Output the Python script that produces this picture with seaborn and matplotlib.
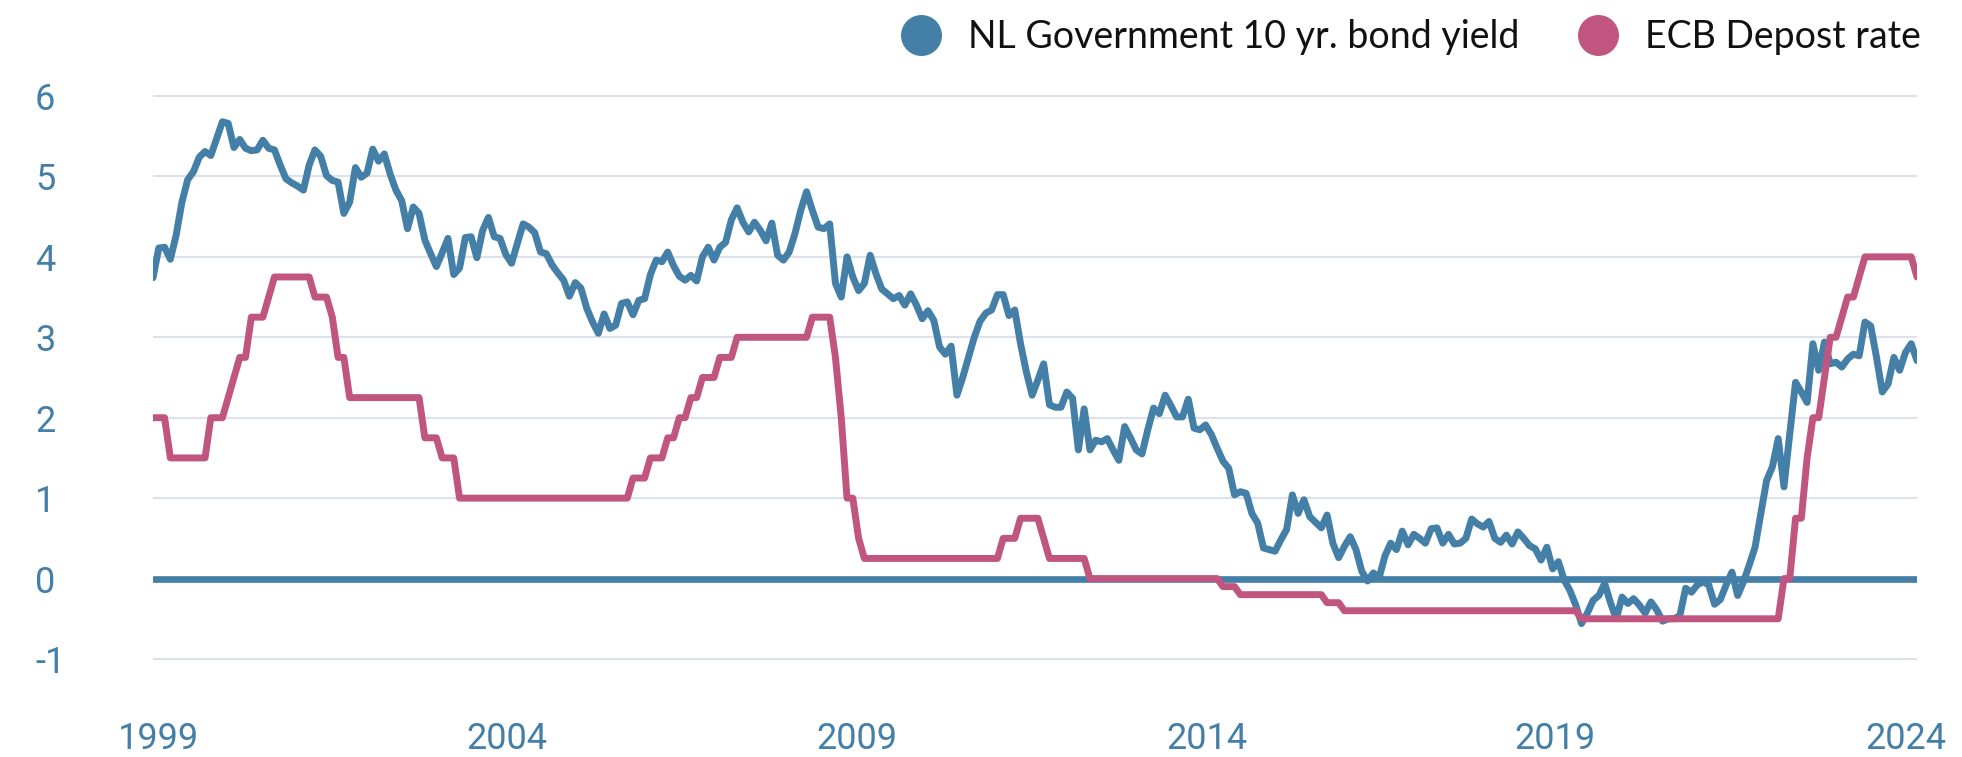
import numpy as np
import pandas as pd
import matplotlib
matplotlib.use("Agg")
import matplotlib.pyplot as plt
from matplotlib.lines import Line2D
import seaborn as sns

# monthly values, Jan 1999 - Jun 2024
nl_yield = [
    3.74, 4.11, 4.12, 3.97, 4.27, 4.68, 4.96, 5.06, 5.24, 5.31, 5.26, 5.47,  # 1999
    5.68, 5.66, 5.36, 5.46, 5.35, 5.32, 5.33, 5.45, 5.35, 5.33, 5.14, 4.97,  # 2000
    4.92, 4.88, 4.83, 5.14, 5.33, 5.25, 5.01, 4.95, 4.93, 4.54, 4.68, 5.11,  # 2001
    4.99, 5.04, 5.34, 5.19, 5.28, 5.03, 4.83, 4.70, 4.35, 4.62, 4.54, 4.21,  # 2002
    4.04, 3.88, 4.05, 4.23, 3.78, 3.86, 4.24, 4.25, 3.99, 4.33, 4.49, 4.25,  # 2003
    4.23, 4.03, 3.92, 4.17, 4.41, 4.37, 4.30, 4.06, 4.04, 3.90, 3.80, 3.71,  # 2004
    3.51, 3.68, 3.61, 3.36, 3.19, 3.05, 3.29, 3.11, 3.15, 3.42, 3.44, 3.28,  # 2005
    3.46, 3.48, 3.78, 3.96, 3.94, 4.06, 3.89, 3.76, 3.71, 3.77, 3.70, 4.00,  # 2006
    4.12, 3.96, 4.12, 4.18, 4.46, 4.61, 4.43, 4.31, 4.43, 4.33, 4.20, 4.42,  # 2007
    4.02, 3.96, 4.06, 4.29, 4.58, 4.81, 4.58, 4.37, 4.35, 4.41, 3.67, 3.50,  # 2008
    4.00, 3.75, 3.58, 3.67, 4.02, 3.79, 3.60, 3.54, 3.48, 3.52, 3.40, 3.54,  # 2009
    3.40, 3.23, 3.33, 3.21, 2.88, 2.79, 2.89, 2.28, 2.50, 2.75, 3.00, 3.20,  # 2010
    3.30, 3.34, 3.53, 3.53, 3.27, 3.34, 2.92, 2.57, 2.28, 2.47, 2.67, 2.16,  # 2011
    2.13, 2.13, 2.32, 2.24, 1.60, 2.11, 1.60, 1.72, 1.70, 1.74, 1.60, 1.47,  # 2012
    1.89, 1.75, 1.60, 1.55, 1.85, 2.12, 2.05, 2.28, 2.15, 2.01, 2.01, 2.23,  # 2013
    1.87, 1.85, 1.91, 1.79, 1.62, 1.46, 1.37, 1.04, 1.08, 1.06, 0.81, 0.69,  # 2014
    0.38, 0.36, 0.34, 0.48, 0.61, 1.04, 0.81, 0.98, 0.77, 0.70, 0.63, 0.79,  # 2015
    0.44, 0.26, 0.40, 0.52, 0.36, 0.09, -0.03, 0.07, 0.01, 0.28, 0.44, 0.36,  # 2016
    0.59, 0.42, 0.55, 0.50, 0.44, 0.62, 0.63, 0.44, 0.55, 0.43, 0.44, 0.50,  # 2017
    0.74, 0.68, 0.64, 0.71, 0.50, 0.45, 0.54, 0.43, 0.58, 0.50, 0.41, 0.37,  # 2018
    0.23, 0.39, 0.12, 0.21, -0.02, -0.15, -0.33, -0.56, -0.43, -0.27, -0.21, -0.06,  # 2019
    -0.30, -0.50, -0.23, -0.31, -0.25, -0.33, -0.43, -0.29, -0.39, -0.53, -0.50, -0.50,  # 2020
    -0.46, -0.12, -0.17, -0.08, -0.04, -0.08, -0.32, -0.26, -0.08, 0.08, -0.21, -0.04,  # 2021
    0.17, 0.39, 0.81, 1.22, 1.39, 1.74, 1.14, 1.80, 2.44, 2.32, 2.19, 2.92,  # 2022
    2.59, 2.94, 2.67, 2.69, 2.63, 2.73, 2.79, 2.77, 3.19, 3.14, 2.75, 2.32,  # 2023
    2.42, 2.75, 2.59, 2.81, 2.92, 2.71,  # 2024
]

ecb_rate = [
    2.0, 2.0, 2.0, 1.5, 1.5, 1.5, 1.5, 1.5, 1.5, 1.5, 2.0, 2.0,  # 1999
    2.0, 2.25, 2.5, 2.75, 2.75, 3.25, 3.25, 3.25, 3.5, 3.75, 3.75, 3.75,  # 2000
    3.75, 3.75, 3.75, 3.75, 3.5, 3.5, 3.5, 3.25, 2.75, 2.75, 2.25, 2.25,  # 2001
    2.25, 2.25, 2.25, 2.25, 2.25, 2.25, 2.25, 2.25, 2.25, 2.25, 2.25, 1.75,  # 2002
    1.75, 1.75, 1.5, 1.5, 1.5, 1.0, 1.0, 1.0, 1.0, 1.0, 1.0, 1.0,  # 2003
    1.0, 1.0, 1.0, 1.0, 1.0, 1.0, 1.0, 1.0, 1.0, 1.0, 1.0, 1.0,  # 2004
    1.0, 1.0, 1.0, 1.0, 1.0, 1.0, 1.0, 1.0, 1.0, 1.0, 1.0, 1.25,  # 2005
    1.25, 1.25, 1.5, 1.5, 1.5, 1.75, 1.75, 2.0, 2.0, 2.25, 2.25, 2.5,  # 2006
    2.5, 2.5, 2.75, 2.75, 2.75, 3.0, 3.0, 3.0, 3.0, 3.0, 3.0, 3.0,  # 2007
    3.0, 3.0, 3.0, 3.0, 3.0, 3.0, 3.25, 3.25, 3.25, 3.25, 2.75, 2.0,  # 2008
    1.0, 1.0, 0.5, 0.25, 0.25, 0.25, 0.25, 0.25, 0.25, 0.25, 0.25, 0.25,  # 2009
    0.25, 0.25, 0.25, 0.25, 0.25, 0.25, 0.25, 0.25, 0.25, 0.25, 0.25, 0.25,  # 2010
    0.25, 0.25, 0.25, 0.5, 0.5, 0.5, 0.75, 0.75, 0.75, 0.75, 0.5, 0.25,  # 2011
    0.25, 0.25, 0.25, 0.25, 0.25, 0.25, 0.0, 0.0, 0.0, 0.0, 0.0, 0.0,  # 2012
    0.0, 0.0, 0.0, 0.0, 0.0, 0.0, 0.0, 0.0, 0.0, 0.0, 0.0, 0.0,  # 2013
    0.0, 0.0, 0.0, 0.0, 0.0, -0.1, -0.1, -0.1, -0.2, -0.2, -0.2, -0.2,  # 2014
    -0.2, -0.2, -0.2, -0.2, -0.2, -0.2, -0.2, -0.2, -0.2, -0.2, -0.2, -0.3,  # 2015
    -0.3, -0.3, -0.4, -0.4, -0.4, -0.4, -0.4, -0.4, -0.4, -0.4, -0.4, -0.4,  # 2016
    -0.4, -0.4, -0.4, -0.4, -0.4, -0.4, -0.4, -0.4, -0.4, -0.4, -0.4, -0.4,  # 2017
    -0.4, -0.4, -0.4, -0.4, -0.4, -0.4, -0.4, -0.4, -0.4, -0.4, -0.4, -0.4,  # 2018
    -0.4, -0.4, -0.4, -0.4, -0.4, -0.4, -0.4, -0.5, -0.5, -0.5, -0.5, -0.5,  # 2019
    -0.5, -0.5, -0.5, -0.5, -0.5, -0.5, -0.5, -0.5, -0.5, -0.5, -0.5, -0.5,  # 2020
    -0.5, -0.5, -0.5, -0.5, -0.5, -0.5, -0.5, -0.5, -0.5, -0.5, -0.5, -0.5,  # 2021
    -0.5, -0.5, -0.5, -0.5, -0.5, -0.5, 0.0, 0.0, 0.75, 0.75, 1.5, 2.0,  # 2022
    2.0, 2.5, 3.0, 3.0, 3.25, 3.5, 3.5, 3.75, 4.0, 4.0, 4.0, 4.0,  # 2023
    4.0, 4.0, 4.0, 4.0, 4.0, 3.75,  # 2024
]

series_names = ['NL Government 10 yr. bond yield', 'ECB Depost rate']
year_labels = ['1999', '2004', '2009', '2014', '2019', '2024']
y_ticks = [-1, 0, 1, 2, 3, 4, 5, 6]

BLUE = '#447fa7'
PINK = '#c05680'
GRID = '#dde1ec'

months = np.arange(len(nl_yield))
df = pd.DataFrame({
    'month': np.concatenate([months, months]),
    'rate': nl_yield + ecb_rate,
    'series': np.repeat(series_names, len(months)),
})

sns.set_theme(style='white')
plt.rcParams['font.family'] = ['Roboto', 'DejaVu Sans']
plt.rcParams['axes.unicode_minus'] = False

W, H = 1962, 757
fig = plt.figure(figsize=(W / 100, H / 100), dpi=100)
ax = fig.add_axes([153 / W, 1 - 699.2 / H, 1764 / W, 643.4 / H])

ax.axhline(0, color=BLUE, linewidth=4.8, zorder=2)
sns.lineplot(data=df, x='month', y='rate', hue='series', hue_order=series_names,
             palette=[BLUE, PINK], linewidth=5.0, legend=False, ax=ax, zorder=3,
             solid_joinstyle='round', solid_capstyle='round')

ax.set_xlim(0, len(months) - 1)
ax.set_ylim(-1.5, 6.5)
ax.set_yticks(y_ticks)
ax.set_yticklabels([str(v) for v in y_ticks])
# year labels sit where the reference puts them
ax.set_xticks([0.9, 61.2, 121.7, 182.3, 242.4, 303.0])
ax.set_xticklabels(year_labels)
ax.set_xlabel('')
ax.set_ylabel('')

ax.set_axisbelow(True)
ax.grid(axis='y', color=GRID, lw=1.5)
ax.grid(axis='x', visible=False)
for s in ax.spines.values():
    s.set_visible(False)

ax.tick_params(axis='both', length=0, labelsize=26, labelcolor=BLUE)
ax.tick_params(axis='y', pad=85)
ax.tick_params(axis='x', pad=16)
for lab in ax.get_yticklabels():
    lab.set_ha('left')

handles = [Line2D([], [], marker='o', ls='none', markersize=28.5, color=c) for c in (BLUE, PINK)]
fig.legend(handles, series_names, loc='center right', bbox_to_anchor=(1921 / W, 1 - 37 / H),
           ncol=2, frameon=False, prop={'family': ['Lato', 'DejaVu Sans'], 'size': 27},
           handlelength=1.0, handletextpad=0.75, columnspacing=1.6,
           borderpad=0, borderaxespad=0, labelcolor='#111111')

fig.savefig('out.png', dpi=100)
